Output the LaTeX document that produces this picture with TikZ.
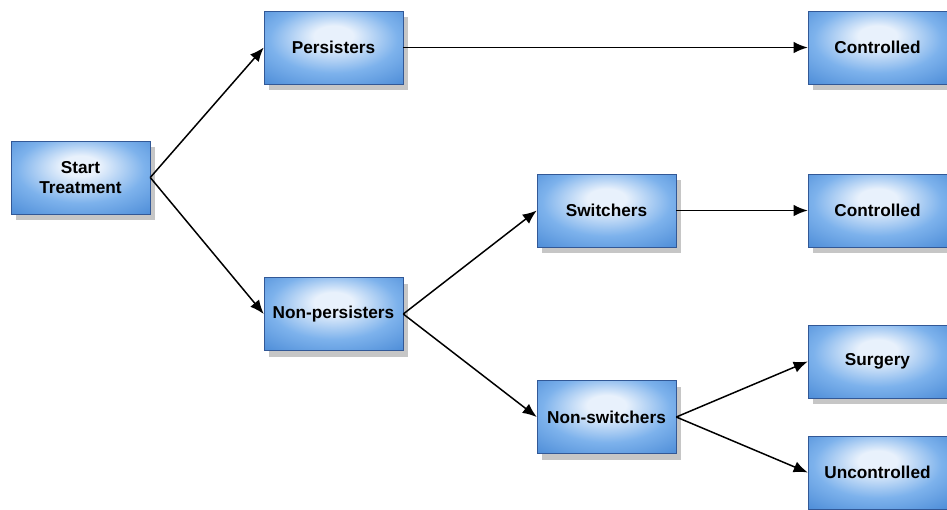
\documentclass[tikz,border=0pt]{standalone}
\usepackage{fontspec}
\setmainfont{Liberation Sans}
\usepackage{tikz}
\usetikzlibrary{arrows.meta,shadows}
\definecolor{boxtop}{RGB}{232,241,252}
\definecolor{boxlight}{RGB}{125,178,236}
\definecolor{boxblue}{RGB}{74,138,214}
\definecolor{boxdark}{RGB}{40,78,160}
\definecolor{boxedge}{RGB}{50,88,150}
\pgfdeclareradialshading{stageshade}{\pgfpoint{0bp}{9bp}}{color(0bp)=(boxtop); color(7bp)=(boxtop); color(23bp)=(boxlight); color(39bp)=(boxblue); color(50bp)=(boxdark); color(60bp)=(boxdark)}

\begin{document}
\begin{tikzpicture}
	\tikzstyle{stage}=[rectangle, draw=boxedge, line width=0.3pt, minimum width=2.78cm, minimum height=1.46cm,
		shading=stageshade, align=center,
		font=\fontsize{9.8}{11.4}\selectfont\bfseries,
		drop shadow={shadow xshift=3pt, shadow yshift=-3.5pt, opacity=0.45, fill=gray}]
	\tikzstyle{flow}=[-{Latex[length=8pt,width=6.5pt]}, line width=0.85pt, black]

	\useasboundingbox (0,0) rectangle (18.94,-10.18);

	% Start
	\node[stage] at (1.61, -3.55) (start) {Start\\Treatment};

	% Second column
	\node[stage] at (6.67, -0.95) (persist) {Persisters};
	\node[stage] at (6.67, -6.28) (nonpersist) {Non-persisters};

	% Third column
	\node[stage] at (12.13, -4.21) (switch) {Switchers};
	\node[stage] at (12.13, -8.34) (nonswitch) {Non-switchers};

	% Outcomes
	\node[stage] at (17.55, -0.95) (out_1) {Controlled};
	\node[stage] at (17.55, -4.21) (out_2) {Controlled};
	\node[stage] at (17.55, -7.23) (out_3) {Surgery};
	\node[stage] at (17.55, -9.45) (out_4) {Uncontrolled};

	% connect
	\draw[flow] (start.east) -- (persist.west);
	\draw[flow] (start.east) -- (nonpersist.west);
	\draw[flow] (persist.east) -- (out_1.west);
	\draw[flow] (nonpersist.east) -- (switch.west);
	\draw[flow] (nonpersist.east) -- (nonswitch.west);
	\draw[flow] (switch.east) -- (out_2.west);
	\foreach \j in {3,4}
		\draw[flow] (nonswitch.east) -- (out_\j.west);
\end{tikzpicture}
\end{document}
